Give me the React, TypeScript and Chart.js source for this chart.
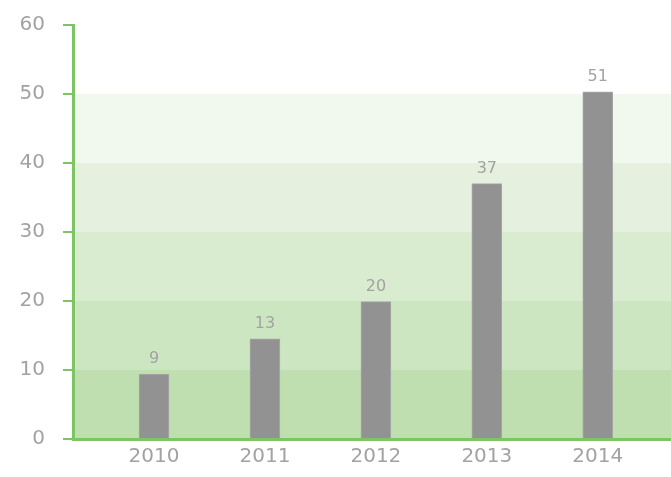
import React, { useEffect, useRef } from "react";
import { Chart, registerables } from "chart.js";

Chart.register(...registerables);

const years = [2010, 2011, 2012, 2013, 2014];
const barValues = [9.4, 14.5, 19.9, 37.0, 50.3];
const valueLabels = ["9", "13", "20", "37", "51"];
const yTicks = [0, 10, 20, 30, 40, 50, 60];
const bandEdges = [0, 10, 20, 30, 40, 50];
const bandColors = ["#bfdfb0", "#cde6c2", "#d9ecd0", "#e5f1de", "#f1f8ed"];

const GREEN = "#7cc464";
const TEXT = "#a2a2a2";
const FONT = "'DejaVu Sans', sans-serif";

const bandsPlugin = {
  id: "bands",
  beforeDraw(chart: any) {
    const { ctx, chartArea, scales } = chart;
    const y = scales.y;
    ctx.save();
    for (let i = 0; i < bandColors.length; i++) {
      const top = y.getPixelForValue(bandEdges[i] + 10);
      const bot = y.getPixelForValue(bandEdges[i]);
      ctx.fillStyle = bandColors[i];
      ctx.fillRect(chartArea.left, top, chartArea.right - chartArea.left, bot - top);
    }
    ctx.restore();
  },
};

const labelsPlugin = {
  id: "valueLabels",
  afterDatasetsDraw(chart: any) {
    const { ctx } = chart;
    const meta = chart.getDatasetMeta(0);
    ctx.save();
    ctx.fillStyle = TEXT;
    ctx.font = `16px ${FONT}`;
    ctx.textAlign = "center";
    ctx.textBaseline = "alphabetic";
    meta.data.forEach((bar: any, i: number) => {
      ctx.fillText(valueLabels[i], bar.x, bar.y - 11);
    });
    ctx.restore();
  },
};

export default function App() {
  const ref = useRef<HTMLCanvasElement | null>(null);
  useEffect(() => {
    if (!ref.current) return;
    const chart = new Chart(ref.current, {
      type: "bar",
      data: {
        datasets: [
          {
            data: years.map((yr, i) => ({ x: yr, y: barValues[i] })),
            backgroundColor: "#929292",
            borderColor: "#a8a8a8",
            borderWidth: 1,
            barThickness: 30,
          },
        ],
      },
      options: {
        responsive: false,
        animation: false,
        layout: { padding: { top: 25, right: 0, left: 0, bottom: 0 } },
        plugins: { legend: { display: false }, tooltip: { enabled: false } },
        scales: {
          x: {
            type: "linear",
            offset: false,
            min: 2009.27,
            max: 2014.66,
            afterBuildTicks: (scale: any) => {
              scale.ticks = years.map((v) => ({ value: v }));
            },
            afterFit: (scale: any) => {
              scale.height = 38;
              scale.paddingLeft = 0;
              scale.paddingRight = 0;
            },
            border: { display: true, color: GREEN, width: 3 },
            grid: { display: false, drawOnChartArea: false, drawTicks: false },
            ticks: {
              color: TEXT,
              font: { family: FONT, size: 20 },
              padding: 6,
              autoSkip: false,
              maxRotation: 0,
              callback: (v: any) => String(v),
            },
          },
          y: {
            min: 0,
            max: 60,
            afterBuildTicks: (scale: any) => {
              scale.ticks = yTicks.map((v) => ({ value: v }));
            },
            afterFit: (scale: any) => {
              scale.width = 73;
              scale.paddingTop = 0;
              scale.paddingBottom = 0;
            },
            border: { display: true, color: GREEN, width: 3 },
            grid: {
              display: true,
              drawOnChartArea: false,
              drawTicks: true,
              tickLength: 10,
              color: GREEN,
              lineWidth: 2,
            },
            ticks: {
              color: TEXT,
              font: { family: FONT, size: 20 },
              padding: 18,
              callback: (v: any) => String(v),
            },
          },
        },
      },
      plugins: [bandsPlugin, labelsPlugin],
    } as any);
    return () => chart.destroy();
  }, []);
  return (
    <div style={{ position: "fixed", left: 0, top: 0, width: 671, height: 477, background: "#fff" }}>
      <canvas ref={ref} width={671} height={477} />
    </div>
  );
}
